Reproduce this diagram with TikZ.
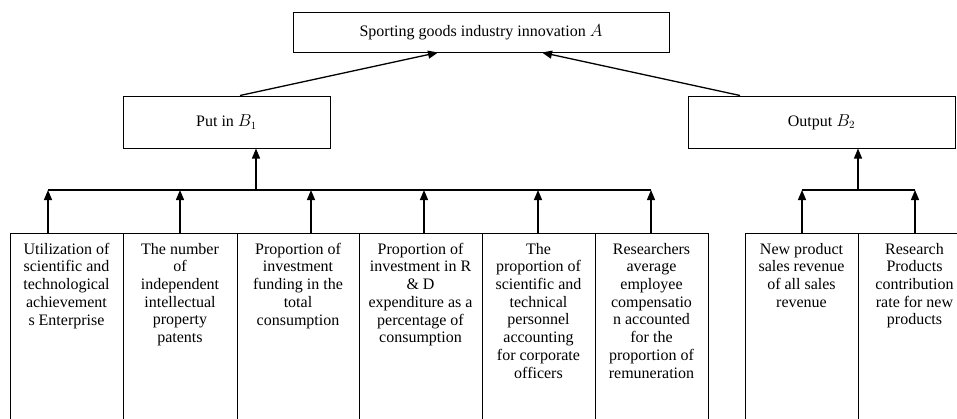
\documentclass[tikz,border=0pt]{standalone}
\usepackage{fontspec}
\setmainfont{Liberation Serif}
\usetikzlibrary{arrows.meta,positioning}

\tikzset{
  box/.style={draw,rectangle,inner sep=0pt,line width=1pt},
  cell/.style={box,outer sep=0pt,anchor=north west},
  arr/.style={-{Triangle[length=10pt,width=8pt]},line width=1.3pt},
  bus/.style={line width=1.3pt},
}
\newcommand{\celltext}[2]{\parbox[c][200pt][t]{#1pt}{\vspace*{10pt}\centering #2}}

\begin{document}
\begin{tikzpicture}[x=1pt,y=-1pt,font=\fontsize{16}{17.7}\selectfont]
\useasboundingbox (0,0) rectangle (957,418);
\clip (0,0) rectangle (957,418);
% goal and criteria
\node[box,minimum width=376pt,minimum height=40pt] (A) at (481,32) {Sporting goods industry innovation $A$};
\node[box,minimum width=207pt,minimum height=52pt] (B1) at (226.5,122) {Put in $B_1$};
\node[box,minimum width=267pt,minimum height=52pt] (B2) at (821.5,122) {Output $B_2$};
\draw[arr] ([xshift=13.5pt]B1.north) -- ([xshift=-43pt]A.south);
\draw[arr] ([xshift=-81.5pt]B2.north) -- ([xshift=61pt]A.south);
% indicators
\node[cell] (c1) at (10,233) {\celltext{113}{Utilization of\\scientific and\\technological\\achievement\\s Enterprise}};
\node[cell,right=0pt of c1] (c2) {\celltext{114}{The number\\of\\independent\\intellectual\\property\\patents}};
\node[cell,right=0pt of c2] (c3) {\celltext{122}{Proportion of\\investment\\funding in the\\total\\consumption}};
\node[cell,right=0pt of c3] (c4) {\celltext{123}{Proportion of\\investment in R\\\& D\\expenditure as a\\percentage of\\consumption}};
\node[cell,right=0pt of c4] (c5) {\celltext{113}{The\\proportion of\\scientific and\\technical\\personnel\\accounting\\for corporate\\officers}};
\node[cell,right=0pt of c5] (c6) {\celltext{113}{Researchers\\average\\employee\\compensatio\\n accounted\\for the\\proportion of\\remuneration}};
\node[cell,right=37pt of c6] (c7) {\celltext{113}{New product\\sales revenue\\of all sales\\revenue}};
\node[cell,right=0pt of c7] (c8) {\celltext{113}{Research\\Products\\contribution\\rate for new\\products}};
% junctions on the buses
\coordinate (j1) at (48,190);
\coordinate (j2) at (180,190);
\coordinate (j3) at (311,190);
\coordinate (j4) at (424,190);
\coordinate (j5) at (538,190);
\coordinate (j6) at (651,190);
\coordinate (j7) at (802,190);
\coordinate (j8) at (915,190);
\coordinate (s1) at (256,190);
\coordinate (s2) at (858,190);
\draw[bus] (j1) -- (j6);
\draw[bus] (j7) -- (j8);
\draw[arr] (s1) -- (s1 |- B1.south);
\draw[arr] (s2) -- (s2 |- B2.south);
\foreach \i in {1,...,8}
  \draw[arr] (c\i.north -| j\i) -- (j\i);
\end{tikzpicture}
\end{document}
